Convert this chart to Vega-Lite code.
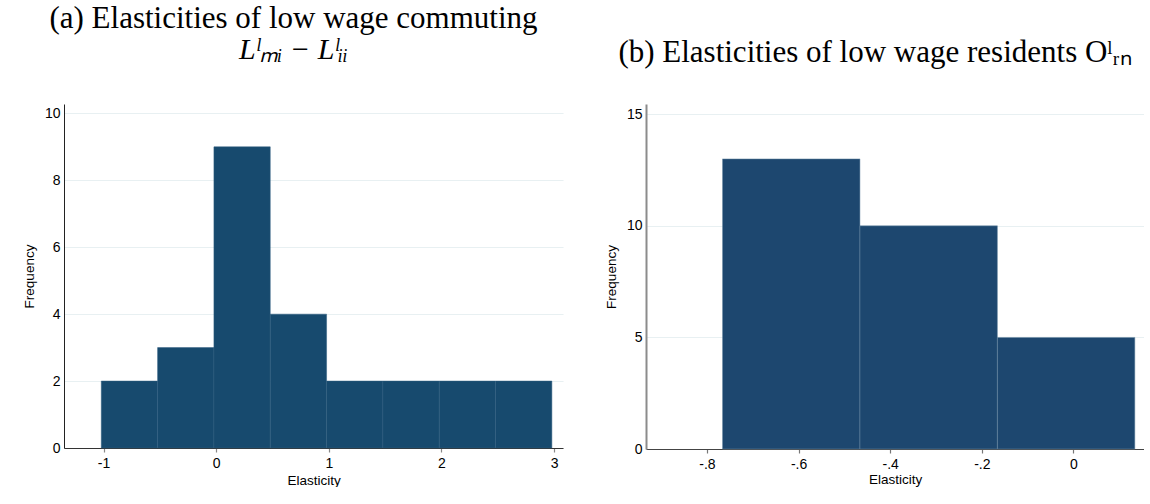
{
  "$schema": "https://vega.github.io/schema/vega-lite/v6.json",
  "background": "white",
  "padding": {"left": 22, "top": 3, "right": 0, "bottom": 0},
  "autosize": {"type": "pad"},
  "bounds": "flush",
  "spacing": 83,
  "config": {
    "view": {"stroke": null},
    "axis": {
      "labelFont": "Liberation Sans",
      "titleFont": "Liberation Sans",
      "labelFontSize": 14,
      "titleFontSize": 13.5,
      "titleFontWeight": "normal",
      "labelColor": "#000000",
      "titleColor": "#000000",
      "grid": false
    },
    "title": {
      "font": "Liberation Serif",
      "fontSize": 31,
      "fontWeight": "normal",
      "color": "#000000",
      "subtitleFont": "Liberation Serif",
      "subtitleFontSize": 30,
      "subtitleFontStyle": "italic",
      "subtitleColor": "#000000",
      "anchor": "middle"
    }
  },
  "hconcat": [
    {
      "width": 499,
      "height": 344,
      "title": {
        "text": "(a) Elasticities of low wage commuting",
        "subtitle": "Lˡₘᵢ − Lˡᵢᵢ",
        "dx": -20,
        "offset": 38,
        "subtitlePadding": 0
      },
      "data": {
        "values": [
          {"x0": -1.02, "x1": -0.52, "count": 2},
          {"x0": -0.52, "x1": -0.02, "count": 3},
          {"x0": -0.02, "x1": 0.48, "count": 9},
          {"x0": 0.48, "x1": 0.98, "count": 4},
          {"x0": 0.98, "x1": 1.48, "count": 2},
          {"x0": 1.48, "x1": 1.98, "count": 2},
          {"x0": 1.98, "x1": 2.48, "count": 2},
          {"x0": 2.48, "x1": 2.98, "count": 2}
        ]
      },
      "mark": {"type": "bar", "fill": "#174a6e", "stroke": "#2f5c7e", "strokeWidth": 0.5},
      "encoding": {
        "x": {
          "field": "x0",
          "type": "quantitative",
          "scale": {"domain": [-1.351, 3.079], "nice": false, "zero": false},
          "axis": {
            "title": "Elasticity",
            "values": [-1, 0, 1, 2, 3],
            "labelExpr": "replace(datum.label, '\u2212', '-')",
            "domainColor": "#333333",
            "domainWidth": 1.2,
            "tickColor": "#888888",
            "tickSize": 4,
            "tickWidth": 1.2,
            "labelPadding": 4,
            "titlePadding": 3
          }
        },
        "x2": {"field": "x1"},
        "y": {
          "field": "count",
          "type": "quantitative",
          "scale": {"domain": [0, 10.28], "nice": false},
          "axis": {
            "title": "Frequency",
            "values": [0, 2, 4, 6, 8, 10],
            "grid": true,
            "gridColor": "#e8f0f2",
            "gridWidth": 1.2,
            "domainColor": "#222222",
            "domainWidth": 1,
            "tickSize": 0,
            "labelPadding": 4,
            "titlePadding": 8
          }
        },
        "y2": {"datum": 0}
      }
    },
    {
      "width": 498,
      "height": 345,
      "title": {
        "text": "(b) Elasticities of low wage residents Oˡᵣₙ",
        "dx": -20,
        "offset": 35
      },
      "data": {
        "values": [
          {"x0": -0.766, "x1": -0.466, "count": 13},
          {"x0": -0.466, "x1": -0.166, "count": 10},
          {"x0": -0.166, "x1": 0.134, "count": 5}
        ]
      },
      "mark": {"type": "bar", "fill": "#1d476f", "stroke": "#6d8ca5", "strokeWidth": 0.5},
      "encoding": {
        "x": {
          "field": "x0",
          "type": "quantitative",
          "scale": {"domain": [-0.933, 0.154], "nice": false, "zero": false},
          "axis": {
            "title": "Elasticity",
            "values": [-0.8, -0.6, -0.4, -0.2, 0],
            "format": ".1f",
            "labelExpr": "datum.value == 0 ? '0' : replace(replace(datum.label, '\u2212', '-'), '0.', '.')",
            "domainColor": "#444444",
            "domainWidth": 1.2,
            "tickColor": "#777777",
            "tickSize": 4,
            "tickWidth": 1.2,
            "labelPadding": 4,
            "titlePadding": 1
          }
        },
        "x2": {"field": "x1"},
        "y": {
          "field": "count",
          "type": "quantitative",
          "scale": {"domain": [0, 15.46], "nice": false},
          "axis": {
            "title": "Frequency",
            "values": [0, 5, 10, 15],
            "grid": true,
            "gridColor": "#e8f0f2",
            "gridWidth": 1.2,
            "domainColor": "#8c8c8c",
            "domainWidth": 2,
            "tickSize": 0,
            "labelPadding": 4,
            "titlePadding": 8
          }
        },
        "y2": {"datum": 0}
      }
    }
  ]
}
